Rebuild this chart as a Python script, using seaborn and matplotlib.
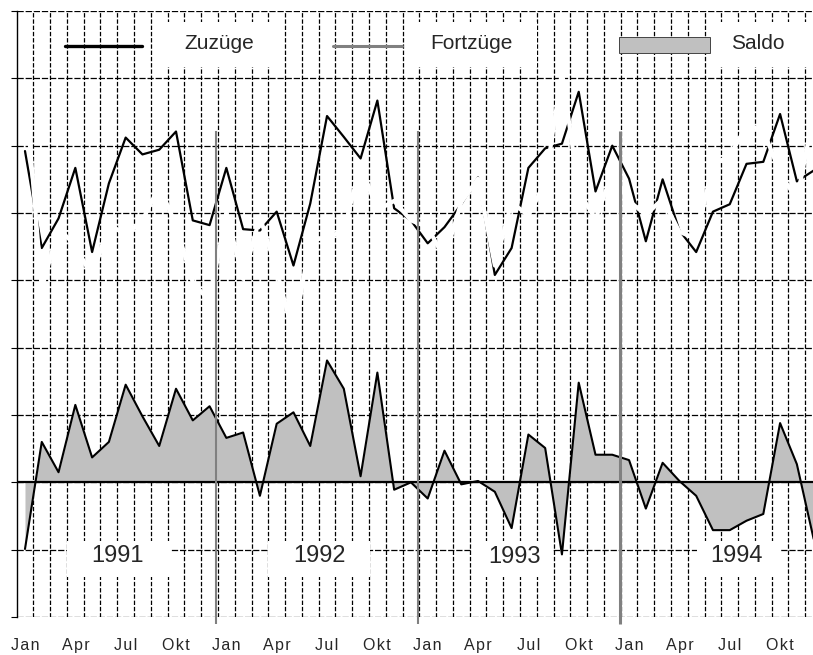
import numpy as np
import pandas as pd
import seaborn as sns
import matplotlib.pyplot as plt
from matplotlib.patches import Rectangle
from matplotlib.lines import Line2D

zuzuege = [4.92, 3.48, 3.92, 4.67, 3.42, 4.44, 5.12, 4.87, 4.94, 5.21, 3.89, 3.82,
           4.67, 3.76, 3.74, 4.02, 3.22, 4.14, 5.44, 5.13, 4.81, 5.67, 4.07, 3.89,
           3.55, 3.79, 4.13, 4.53, 3.08, 3.48, 4.67, 4.96, 5.03, 5.80, 4.32, 5.00,
           4.51, 3.58, 4.50, 3.74, 3.42, 4.02, 4.13, 4.73, 4.76, 5.47, 4.47, 4.63]
fortzuege = [5.91, 2.88, 3.77, 3.52, 3.05, 3.84, 3.67, 3.89, 4.40, 3.82, 2.97, 2.69,
             4.01, 3.02, 3.94, 3.15, 2.18, 3.60, 3.63, 3.74, 4.72, 4.04, 4.18, 3.89,
             3.79, 3.32, 4.16, 4.51, 3.22, 4.16, 3.96, 4.45, 6.10, 4.32, 3.91, 4.59,
             4.18, 3.97, 4.21, 3.72, 3.62, 4.73, 4.84, 5.30, 5.23, 4.59, 4.20, 5.47]
saldo = [-0.99, 0.60, 0.15, 1.15, 0.37, 0.60, 1.45, 0.98, 0.54, 1.39, 0.92, 1.13,
         0.66, 0.74, -0.20, 0.87, 1.04, 0.54, 1.81, 1.39, 0.09, 1.63, -0.11, 0.00,
         -0.24, 0.47, -0.03, 0.02, -0.14, -0.68, 0.71, 0.51, -1.07, 1.48, 0.41, 0.41,
         0.33, -0.39, 0.29, 0.02, -0.20, -0.71, -0.71, -0.57, -0.47, 0.88, 0.27, -0.84]

years = ["1991", "1992", "1993", "1994"]
month_labels = ["Jan", "Apr", "Jul", "Okt"]

df = pd.DataFrame({
    "monat": np.arange(len(zuzuege)),
    "Zuzüge": zuzuege,
    "Fortzüge": fortzuege,
    "Saldo": saldo,
})

sns.set_style("white")
plt.rcParams['font.family'] = ['Liberation Sans', 'DejaVu Sans']

fig = plt.figure(figsize=(8.13, 6.55), dpi=100)
ax = fig.add_axes([16.6 / 813, 38 / 655, 796.2 / 813, 606 / 655])

# Saldo als Flaeche
ax.fill_between(df["monat"], 0, df["Saldo"], color="#c0c0c0", linewidth=0, zorder=2)
sns.lineplot(data=df, x="monat", y="Saldo", color="black", lw=1.5, ax=ax, zorder=3)
ax.axhline(0, color="black", lw=1.6, zorder=3)

sns.lineplot(data=df, x="monat", y="Zuzüge", color="black", lw=1.6, ax=ax, zorder=4)
sns.lineplot(data=df, x="monat", y="Fortzüge", color="white", lw=3, ax=ax, zorder=5)

# Jahreswechsel
year_breaks = [11.4, 23.4, 35.45]
ax.vlines(year_breaks, -2.1, 5.22, colors="#808080", linewidths=[1.5, 1.5, 2.2],
          clip_on=False, zorder=6)

# Achsen
ax.set_xlim(-0.5, 46.95)
ax.set_ylim(-2, 7)
ax.set_xlabel("")
ax.set_ylabel("")
ax.set_yticks(range(-2, 8))
ax.set_yticklabels([])
ax.set_xticks(range(0, 48, 3))
# etwas gesperrt wie im Original
ax.set_xticklabels(["\u200a".join(m) for m in month_labels] * 4)
ax.set_xticks(np.arange(0.5, 47, 1), minor=True)
ax.tick_params(axis="y", which="major", left=True, length=4.3, width=0.8,
               direction="out", color="black")
ax.tick_params(axis="x", which="both", length=0, pad=15, labelsize=11.5)

ax.set_axisbelow(True)
ax.yaxis.grid(True, which="major", color="black", lw=0.9, linestyle=(0, (5, 1.5)))
ax.xaxis.grid(True, which="minor", color="black", lw=0.9, linestyle=(0, (3.5, 1.5)))
ax.xaxis.grid(False, which="major")

for side in ["top", "right", "bottom"]:
    ax.spines[side].set_visible(False)
ax.spines["left"].set_color("black")
ax.spines["left"].set_linewidth(1.0)

# Jahresbeschriftungen mit weissem Hintergrund
year_x = [5.54, 17.58, 29.2, 42.43]
year_y = [-1.09, -1.09, -1.11, -1.09]
box_left = [2.50, 14.48, 26.64, 40.05]
box_right = [8.64, 20.56, 31.47, 45.0]
for lab, xx, yy, bl, br in zip(years, year_x, year_y, box_left, box_right):
    ax.add_patch(Rectangle((bl, -1.41), br - bl, 0.54, facecolor="white",
                           edgecolor="none", zorder=1))
    ax.text(xx, yy, lab, ha="center", va="center", fontsize=17, zorder=7)

# Legende (manuell, in Achsenkoordinaten)
tr = ax.transAxes
for x0, x1 in [(0.171, 0.327), (0.490, 0.654), (0.871, 1.0)]:
    ax.add_patch(Rectangle((x0, 0.908), x1 - x0, 0.074, transform=tr,
                           facecolor="white", edgecolor="none", zorder=1))
ax.add_line(Line2D([0.061, 0.1575], [0.942, 0.942], transform=tr, color="black",
                   lw=2.4, zorder=6))
ax.add_line(Line2D([0.397, 0.484], [0.942, 0.942], transform=tr, color="#808080",
                   lw=2.2, zorder=6))
ax.add_patch(Rectangle((0.757, 0.931), 0.114, 0.026, transform=tr,
                       facecolor="#c0c0c0", edgecolor="#444444", lw=0.7, zorder=6))
ax.text(0.254, 0.947, "Zuzüge", transform=tr, ha="center", va="center",
        fontsize=15, zorder=7)
ax.text(0.571, 0.947, "Fortzüge", transform=tr, ha="center", va="center",
        fontsize=15, zorder=7)
ax.text(0.931, 0.947, "Saldo", transform=tr, ha="center", va="center",
        fontsize=15, zorder=7)

fig.savefig("out.png", dpi=100, facecolor="white")
